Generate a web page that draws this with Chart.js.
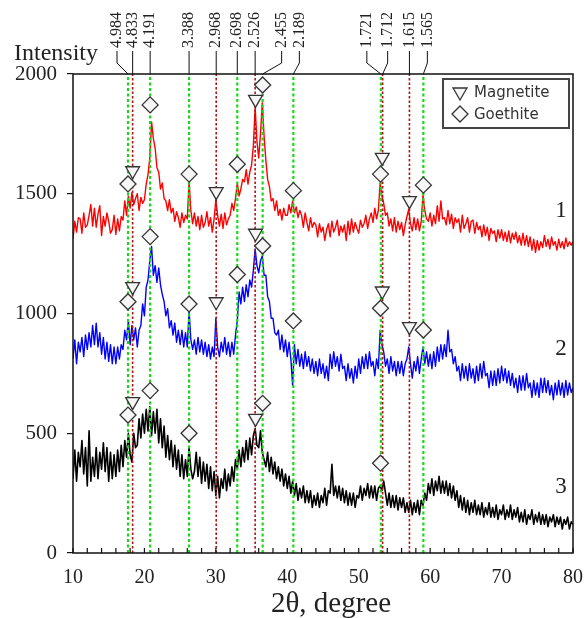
<!DOCTYPE html>
<html><head><meta charset="utf-8">
<script src="https://cdn.jsdelivr.net/npm/chart.js@4.4.1/dist/chart.umd.min.js"></script>
<style>html,body{margin:0;padding:0;background:#fff;}canvas{display:block;}</style>
</head><body>
<canvas id="c" width="584" height="618"></canvas>
<script>
// 2-theta sampling grid of the patterns
const X_START = 10, X_STEP = 0.25;

// Pattern 1 (red)
const curve1 = [
1310,1385,1340,1400, 1395,1335,1420,1360, 1370,1410,1455,1365, 1440,1360,1415,1450,
1325,1405,1365,1420, 1385,1335,1350,1410, 1330,1395,1345,1405, 1390,1470,1410,1490,
1440,1505,1455,1480, 1500,1430,1485,1460, 1475,1540,1580,1650, 1800,1730,1690,1610,
1590,1520,1545,1480, 1470,1430,1475,1420, 1440,1385,1425,1400, 1360,1420,1380,1410,
1395,1550,1430,1375, 1420,1365,1405,1350, 1410,1360,1380,1425, 1365,1400,1340,1395,
1475,1410,1365,1415, 1355,1420,1370,1395, 1410,1460,1430,1480, 1545,1490,1520,1560,
1550,1600,1540,1590, 1620,1700,1860,1720, 1650,1750,1880,1740, 1640,1560,1530,1470,
1480,1430,1470,1410, 1435,1390,1440,1410, 1410,1455,1420,1470, 1420,1445,1400,1430,
1410,1360,1420,1380, 1345,1400,1360,1380, 1370,1320,1375,1340, 1360,1305,1350,1375,
1320,1385,1340,1360, 1390,1325,1365,1340, 1370,1305,1385,1330, 1395,1340,1380,1355,
1335,1390,1360,1375, 1410,1355,1395,1420, 1380,1440,1395,1430, 1545,1490,1460,1410,
1420,1365,1395,1345, 1400,1340,1385,1350, 1380,1325,1370,1405, 1435,1375,1345,1400,
1350,1395,1345,1385, 1495,1430,1395,1385, 1420,1365,1410,1375, 1450,1385,1470,1395,
1400,1370,1430,1375, 1415,1355,1400,1380, 1395,1340,1410,1355, 1375,1400,1340,1385,
1390,1335,1380,1350, 1365,1320,1370,1325, 1360,1305,1355,1335, 1345,1300,1350,1315,
1350,1305,1340,1300, 1345,1295,1335,1310, 1340,1295,1325,1285, 1335,1285,1325,1280,
1320,1265,1310,1255, 1305,1265,1300,1275, 1325,1280,1310,1270, 1320,1285,1300,1265,
1310,1275,1300,1270, 1315,1280,1300,1285, 1300
];

// Pattern 2 (blue)
const curve2 = [
810,890,790,880, 840,900,820,910, 850,920,860,950, 870,960,860,920,
830,900,810,880, 800,870,790,860, 790,860,810,870, 850,930,890,970,
870,950,890,940, 860,930,950,1040, 990,1110,1140,1220, 1280,1160,1200,1130,
1190,1120,1080,1050, 990,1020,940,970, 910,960,880,930, 870,930,860,920,
860,1010,890,850, 890,830,900,840, 890,830,880,820, 870,810,860,820,
980,860,820,880, 840,900,830,880, 820,880,830,910, 970,1090,1040,1110,
1050,1120,1070,1140, 1110,1180,1270,1200, 1170,1220,1240,1160, 1160,1070,1050,980,
980,920,910,930, 850,910,840,890, 820,880,810,700, 870,790,850,780,
830,770,840,780, 820,760,810,750, 800,740,810,750, 790,730,780,720,
830,770,840,780, 820,760,830,770, 780,720,790,730, 770,710,780,730,
810,750,820,770, 830,770,840,780, 800,740,810,770, 930,870,840,780,
810,750,820,760, 800,740,800,750, 800,740,790,810, 860,790,730,800,
760,820,750,810, 860,790,840,780, 830,770,840,780, 860,800,870,810,
870,820,930,840, 850,790,820,760, 780,720,790,730, 780,720,790,730,
770,710,780,720, 790,730,800,740, 750,690,760,700, 760,700,770,710,
780,720,770,710, 760,700,750,690, 730,670,740,680, 740,680,750,690,
710,650,720,660, 710,650,730,670, 730,670,720,660, 700,640,710,660,
720,660,710,650, 720,660,710,670, 690
];

// Pattern 3 (black)
const curve3 = [
310,430,300,420, 360,470,330,440, 280,510,300,400, 320,440,310,420,
350,460,340,440, 300,420,310,410, 320,430,340,450, 360,470,400,500,
410,380,500,440, 450,560,480,580, 500,600,510,610, 490,590,500,600,
460,560,440,530, 400,490,390,470, 360,450,350,430, 320,410,310,390,
320,440,350,310, 340,420,320,400, 290,380,300,370, 270,360,260,340,
240,320,230,310, 270,350,260,330, 280,360,300,390, 350,430,360,440,
380,470,390,480, 410,490,520,450, 440,510,420,390, 360,420,340,400,
330,380,310,360, 300,350,280,330, 270,320,250,300, 240,290,220,270,
230,280,210,260, 210,260,190,240, 200,250,190,240, 210,270,200,260,
250,370,240,280, 230,280,220,270, 210,260,200,250, 200,250,190,240,
230,280,220,270, 240,290,230,280, 230,280,220,270, 280,260,300,250,
200,250,190,240, 190,240,180,230, 190,230,170,210, 170,220,160,210,
170,220,160,220, 200,250,220,290, 250,310,240,300, 260,320,250,300,
250,300,240,290, 230,280,220,260, 190,240,180,230, 170,220,160,210,
170,220,160,200, 160,210,150,190, 160,210,150,190, 150,200,140,180,
160,200,140,180, 150,200,140,180, 150,190,130,170, 130,180,120,160,
140,180,120,160, 130,170,120,160, 120,160,110,150, 130,160,110,150,
120,150,100,140, 120,150,100,130, 120
];

// Reference reflections: d-spacing labels, 2-theta positions, phase
const dLabels = ['4.984','4.833','4.191','3.388','2.968','2.698','2.526','2.455','2.189','1.721','1.712','1.615','1.565'];
const dPos    = [17.7, 18.35, 20.8, 26.25, 30.05, 33.0, 35.5, 36.55, 40.85, 53.1, 53.35, 57.1, 59.05];
const dPhase  = ['G','M','G','G','M','G','M','G','G','G','M','M','G'];

// Magnetite markers (triangles)
const magX  = [18.35, 30.05, 35.55, 53.3, 57.1];
const mag1Y = [1596, 1509, 1894, 1652, 1471];
const mag2Y = [1112, 1049, 1335, 1094, 945];
const mag3Y = [632, null, 562, null, null];

// Goethite markers (diamonds)
const goeX  = [17.7, 20.8, 26.25, 33.0, 36.55, 40.85, 53.05, 59.05];
const goe1Y = [1541, 1871, 1582, 1623, 1954, 1513, 1582, 1536];
const goe2Y = [1049, 1321, 1040, 1163, 1282, 969, 1022, 931];
const goe3Y = [576, 678, 500, null, 625, null, 375, null];

const curveNames = ['1','2','3'];
const yTicks = [0, 500, 1000, 1500, 2000];

// ---------- build ----------
const SERIF = '"Liberation Serif", "Times New Roman", serif';
const SANS = '"DejaVu Sans", sans-serif';
const toPts = arr => arr.map((v,i) => ({x: X_START + i*X_STEP, y: v}));
const markerPts = (xs, ...ys) => {
  const out = [];
  ys.forEach(arr => arr.forEach((v,i) => { if (v !== null) out.push({x: xs[i], y: v}); }));
  return out;
};

const datasets = [];
[[curve1,'#ff0000',1.4],[curve2,'#0000ff',1.4],[curve3,'#000000',1.6]].forEach(([d,c,w]) => {
  datasets.push({type:'line', data: toPts(d), borderColor:c, borderWidth:w, pointRadius:0,
    tension:0, borderJoinStyle:'round', order:3});
});
dPos.forEach((p,i) => {
  const g = dPhase[i] === 'G';
  datasets.push({type:'line', data:[{x:p,y:0},{x:p,y:2000}],
    borderColor: g ? '#18d818' : '#b01414', borderWidth: g ? 2.2 : 1.6,
    borderDash: g ? [3,2.5] : [2.5,2], pointRadius:0, order:1});
});
datasets.push({type:'scatter', data: markerPts(magX, mag1Y, mag2Y, mag3Y), showLine:false,
  pointStyle:'triangle', rotation:180, pointRadius:8, pointBackgroundColor:'#f6f6f6',
  pointBorderColor:'#333', pointBorderWidth:1.3, order:0});
datasets.push({type:'scatter', data: markerPts(goeX, goe1Y, goe2Y, goe3Y), showLine:false,
  pointStyle:'rectRot', pointRadius:8, pointBackgroundColor:'#f6f6f6',
  pointBorderColor:'#333', pointBorderWidth:1.3, order:0});

const labelShift = {'4.984':-11,'2.455':19,'2.189':6,'1.721':-14,'1.712':5,'1.565':4};

const deco = {
  id:'deco',
  afterDraw(chart) {
    const ctx = chart.ctx, a = chart.chartArea, xs = chart.scales.x;
    ctx.save();
    ctx.strokeStyle = '#111'; ctx.lineWidth = 1.5;
    ctx.strokeRect(a.left, a.top, a.right - a.left, a.bottom - a.top);
    ctx.lineWidth = 1.2; ctx.beginPath();
    for (let v = 10; v <= 80; v += 2) {
      const px = xs.getPixelForValue(v);
      ctx.moveTo(px, a.bottom); ctx.lineTo(px, a.bottom - 5);
    }
    ctx.stroke();
    ctx.fillStyle = '#222'; ctx.strokeStyle = '#111'; ctx.lineWidth = 1;
    ctx.font = '16px ' + SERIF;
    dLabels.forEach((t,i) => {
      const lx = xs.getPixelForValue(dPos[i]);
      const sx = lx + (labelShift[t] || 0);
      ctx.beginPath();
      ctx.moveTo(sx, 51);
      if (labelShift[t]) ctx.lineTo(sx, 63);
      ctx.lineTo(lx, a.top);
      ctx.stroke();
      ctx.save();
      ctx.translate(sx, 48); ctx.rotate(-Math.PI/2);
      ctx.textAlign = 'left'; ctx.textBaseline = 'middle';
      ctx.fillText(t, 0, 0);
      ctx.restore();
    });
    ctx.font = '24px ' + SERIF; ctx.textAlign = 'left'; ctx.textBaseline = 'alphabetic';
    ctx.fillText('Intensity', 14, 60);
    ctx.font = '29px ' + SERIF; ctx.textAlign = 'center';
    ctx.fillText('2θ, degree', 331, 612);
    ctx.font = '23px ' + SERIF; ctx.textAlign = 'center'; ctx.textBaseline = 'middle';
    [211, 349, 487].forEach((y,i) => ctx.fillText(curveNames[i], 561, y));
    ctx.lineWidth = 2; ctx.strokeStyle = '#444';
    ctx.strokeRect(443, 79, 126, 49);
    const mk = (style, rot, y) => {
      ctx.fillStyle = '#f6f6f6'; ctx.strokeStyle = '#333'; ctx.lineWidth = 1.3;
      Chart.helpers.drawPoint(ctx, {pointStyle: style, rotation: rot, radius: 8, borderWidth: 1.3}, 460, y);
    };
    mk('triangle', 180, 92);
    mk('rectRot', 0, 114);
    ctx.fillStyle = '#333'; ctx.font = '15px ' + SANS; ctx.textAlign = 'left'; ctx.textBaseline = 'middle';
    ctx.fillText('Magnetite', 474, 93);
    ctx.fillText('Goethite', 474, 115);
    ctx.restore();
  }
};

new Chart(document.getElementById('c'), {
  data: {datasets},
  options: {
    responsive:false, animation:false, devicePixelRatio:1,
    layout:{padding:{top:74, right:11, left:0, bottom:0}},
    plugins:{legend:{display:false}, tooltip:{enabled:false}},
    scales:{
      x:{type:'linear', min:10, max:80,
        ticks:{stepSize:10, color:'#222', font:{family:SERIF, size:20}, padding:13, maxRotation:0},
        grid:{display:false, drawTicks:false}, border:{display:false},
        afterFit: s => { s.height = 65; s.paddingRight = 0; s.paddingLeft = 0; }},
      y:{type:'linear', min:0, max:2000,
        afterBuildTicks: s => { s.ticks = yTicks.map(v => ({value:v})); },
        ticks:{color:'#222', font:{family:SERIF, size:21}, padding:10, callback: v => String(v)},
        grid:{drawOnChartArea:false, drawTicks:true, tickLength:6, color:'#111', lineWidth:1.2},
        border:{display:false},
        afterFit: s => { s.width = 73; s.paddingTop = 0; s.paddingBottom = 0; }}
    }
  },
  plugins:[deco]
});
</script>
</body></html>
